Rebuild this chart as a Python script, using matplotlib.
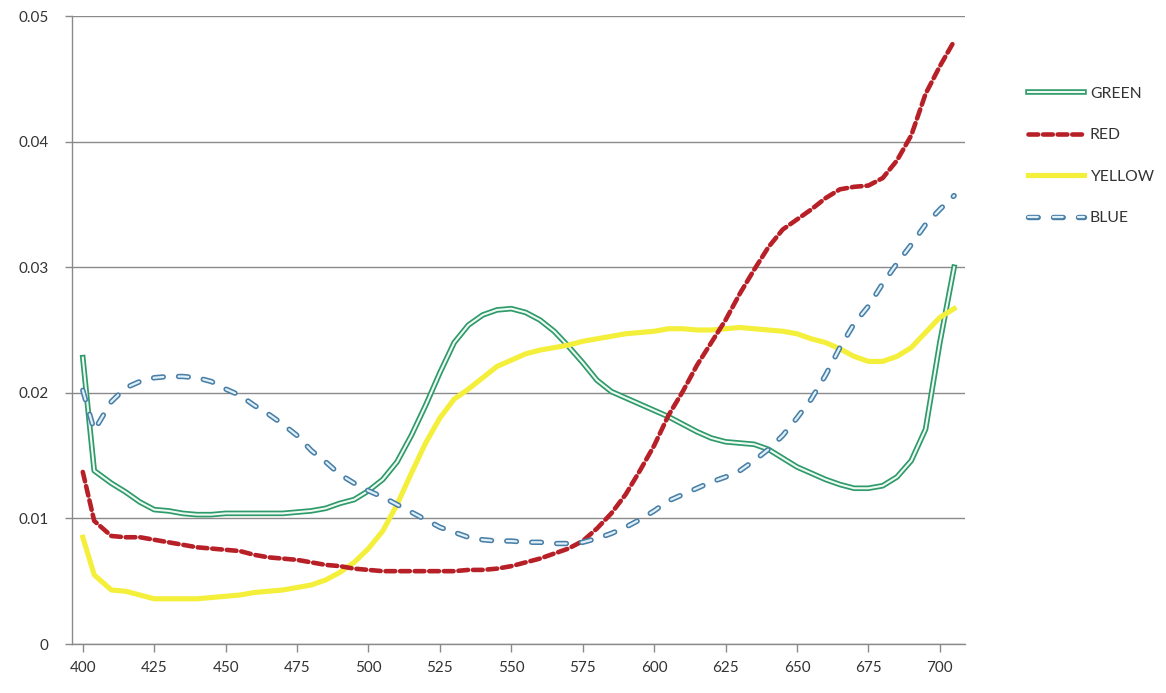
import matplotlib
matplotlib.use("Agg")
import matplotlib.pyplot as plt
from matplotlib.legend_handler import HandlerTuple

# wavelength grid (nm) and the four reflectance curves
wavelength = [400, 404, 410, 415, 420, 425, 430, 435, 440, 445, 450, 455, 460,
              465, 470, 475, 480, 485, 490, 495, 500, 505, 510, 515, 520, 525,
              530, 535, 540, 545, 550, 555, 560, 565, 570, 575, 580, 585, 590,
              595, 600, 605, 610, 615, 620, 625, 630, 635, 640, 645, 650, 655,
              660, 665, 670, 675, 680, 685, 690, 695, 700, 705]

green = [0.0228, 0.0138, 0.0128, 0.0121, 0.0113, 0.0107, 0.0106, 0.0104,
         0.0103, 0.0103, 0.0104, 0.0104, 0.0104, 0.0104, 0.0104, 0.0105,
         0.0106, 0.0108, 0.0112, 0.0115, 0.0122, 0.0131, 0.0145, 0.0166,
         0.0190, 0.0216, 0.0240, 0.0254, 0.0262, 0.0266, 0.0267, 0.0264,
         0.0258, 0.0249, 0.0237, 0.0224, 0.0210, 0.0201, 0.0196, 0.0191,
         0.0186, 0.0181, 0.0175, 0.0169, 0.0164, 0.0161, 0.0160, 0.0159,
         0.0155, 0.0148, 0.0141, 0.0136, 0.0131, 0.0127, 0.0124, 0.0124,
         0.0126, 0.0133, 0.0146, 0.0171, 0.0240, 0.0300]

red = [0.0137, 0.0098, 0.0086, 0.0085, 0.0085, 0.0083, 0.0081, 0.0079,
       0.0077, 0.0076, 0.0075, 0.0074, 0.0071, 0.0069, 0.0068, 0.0067,
       0.0065, 0.0063, 0.0062, 0.0060, 0.0059, 0.0058, 0.0058, 0.0058,
       0.0058, 0.0058, 0.0058, 0.0059, 0.0059, 0.0060, 0.0062, 0.0065,
       0.0068, 0.0072, 0.0076, 0.0082, 0.0092, 0.0104, 0.0119, 0.0138,
       0.0158, 0.0182, 0.0201, 0.0222, 0.0240, 0.0258, 0.0279, 0.0298,
       0.0316, 0.0330, 0.0338, 0.0346, 0.0355, 0.0362, 0.0364, 0.0365,
       0.0371, 0.0385, 0.0405, 0.0438, 0.0460, 0.0480]

yellow = [0.0085, 0.0055, 0.0043, 0.0042, 0.0039, 0.0036, 0.0036, 0.0036,
          0.0036, 0.0037, 0.0038, 0.0039, 0.0041, 0.0042, 0.0043, 0.0045,
          0.0047, 0.0051, 0.0057, 0.0065, 0.0076, 0.0090, 0.0111, 0.0136,
          0.0160, 0.0180, 0.0195, 0.0203, 0.0212, 0.0221, 0.0226, 0.0231,
          0.0234, 0.0236, 0.0238, 0.0241, 0.0243, 0.0245, 0.0247, 0.0248,
          0.0249, 0.0251, 0.0251, 0.0250, 0.0250, 0.0251, 0.0252, 0.0251,
          0.0250, 0.0249, 0.0247, 0.0243, 0.0240, 0.0235, 0.0229, 0.0225,
          0.0225, 0.0229, 0.0236, 0.0248, 0.0260, 0.0267]

blue = [0.0202, 0.0170, 0.0193, 0.0204, 0.0209, 0.0212, 0.0213, 0.0213,
        0.0212, 0.0209, 0.0203, 0.0198, 0.0190, 0.0183, 0.0175, 0.0166,
        0.0154, 0.0145, 0.0135, 0.0128, 0.0122, 0.0117, 0.0111, 0.0105,
        0.0099, 0.0093, 0.0089, 0.0085, 0.0083, 0.0082, 0.0082, 0.0081,
        0.0081, 0.0080, 0.0080, 0.0081, 0.0084, 0.0088, 0.0093, 0.0099,
        0.0106, 0.0114, 0.0119, 0.0124, 0.0129, 0.0133, 0.0138, 0.0146,
        0.0155, 0.0166, 0.0180, 0.0195, 0.0214, 0.0236, 0.0255, 0.0269,
        0.0287, 0.0303, 0.0318, 0.0334, 0.0346, 0.0357]

x_ticks = [400, 425, 450, 475, 500, 525, 550, 575, 600, 625, 650, 675, 700]
y_ticks = [0, 0.01, 0.02, 0.03, 0.04, 0.05]
y_labels = ["0", "0.01", "0.02", "0.03", "0.04", "0.05"]

plt.rcParams["font.family"] = ["Lato", "DejaVu Sans"]
plt.rcParams["lines.scale_dashes"] = False

fig = plt.figure(figsize=(11.66, 6.93), dpi=100)
ax = fig.add_axes([0.0617, 0.0707, 0.7659, 0.9062])

grid_c = "#8a8a8a"
ax.set_yticks(y_ticks)
ax.yaxis.grid(True, color=grid_c, lw=1.0)
ax.set_axisbelow(True)

# GREEN: double (outlined) line
g_out, = ax.plot(wavelength, green, color="#2f9a6a", lw=4.0,
                 solid_joinstyle="round", zorder=3)
g_in, = ax.plot(wavelength, green, color="#eefaf3", lw=1.5, zorder=3.1)

# RED: heavy dashes
r_line, = ax.plot(wavelength, red, color="#b82028", lw=3.3,
                  linestyle=(0, (7, 3.5)), dash_capstyle="round", zorder=4)

# YELLOW: plain thick line
y_line, = ax.plot(wavelength, yellow, color="#f4ef3a", lw=3.7, zorder=3.5)

# BLUE: outlined dashes
b_out, = ax.plot(wavelength, blue, color="#4a7fa6", lw=3.9,
                 linestyle=(0, (7, 11)), dash_capstyle="round", zorder=5)
b_in, = ax.plot(wavelength, blue, color="#dff1fa", lw=1.6,
                linestyle=(0, (7, 11)), dash_capstyle="round", zorder=5.1)

ax.set_xlim(396.2, 708.8)
ax.set_ylim(0, 0.05)
ax.set_xticks(x_ticks)
ax.set_xticklabels([str(v) for v in x_ticks])
ax.set_yticklabels(y_labels)

for side in ["top", "right"]:
    ax.spines[side].set_visible(False)
for side in ["left", "bottom"]:
    ax.spines[side].set_color(grid_c)
    ax.spines[side].set_linewidth(1.0)

ax.tick_params(axis="x", colors=grid_c, length=6, width=1, pad=6,
               labelcolor="#333333", labelsize=11)
ax.tick_params(axis="y", colors=grid_c, length=5, width=1, pad=12,
               labelcolor="#333333", labelsize=11)

leg = fig.legend([(g_out, g_in), r_line, y_line, (b_out, b_in)],
                 ["GREEN", "RED", "YELLOW", "BLUE"],
                 handler_map={tuple: HandlerTuple(ndivide=1)},
                 loc="upper left", bbox_to_anchor=(1020 / 1166, 1 - 79 / 693),
                 frameon=False, borderpad=0, handlelength=3.6,
                 handletextpad=0.35, labelspacing=1.75, fontsize=11.3)
for t in leg.get_texts():
    t.set_color("#333333")

fig.savefig("out.png", dpi=100, facecolor="white")
